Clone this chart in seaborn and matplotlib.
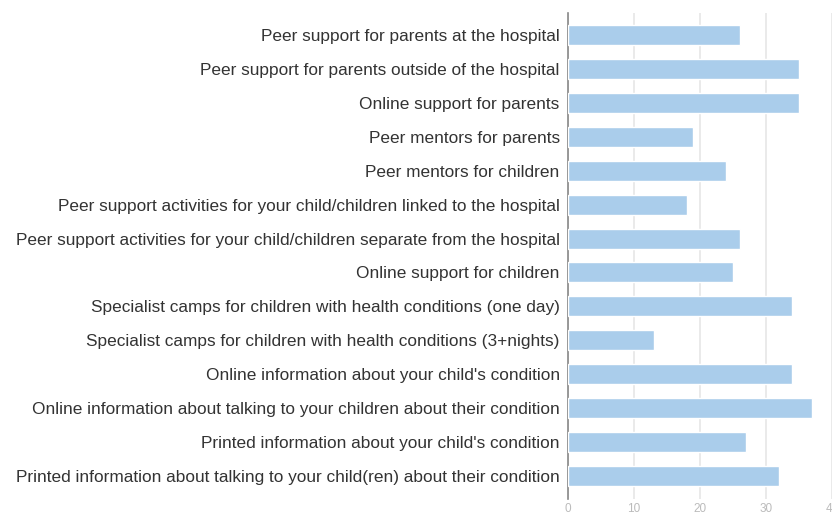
import matplotlib
matplotlib.use("Agg")
import matplotlib.pyplot as plt
import seaborn as sns
import pandas as pd

categories = [
    "Peer support for parents at the hospital",
    "Peer support for parents outside of the hospital",
    "Online support for parents",
    "Peer mentors for parents",
    "Peer mentors for children",
    "Peer support activities for your child/children linked to the hospital",
    "Peer support activities for your child/children separate from the hospital",
    "Online support for children",
    "Specialist camps for children with health conditions (one day)",
    "Specialist camps for children with health conditions (3+nights)",
    "Online information about your child's condition",
    "Online information about talking to your children about their condition",
    "Printed information about your child's condition",
    "Printed information about talking to your child(ren) about their condition",
]
values = [26, 35, 35, 19, 24, 18, 26, 25, 34, 13, 34, 37, 27, 32]
xticks = [0, 10, 20, 30, 40]

df = pd.DataFrame({"category": categories, "value": values})

sns.set_theme(style="white")
plt.rcParams["font.family"] = ["Liberation Sans", "DejaVu Sans"]

fig = plt.figure(figsize=(8.32, 5.18), dpi=100)
ax = fig.add_axes([568 / 832, 19 / 518, 1 - 568 / 832, (499 - 13) / 518])

sns.barplot(data=df, x="value", y="category", color="#aacdeb", saturation=1,
            width=0.59, ax=ax, zorder=3)

ax.set_xlim(0, 40)
ax.set_ylim(13.68, -0.65)
ax.set_xticks(xticks)
ax.set_xticklabels([str(t) for t in xticks])
ax.xaxis.grid(True, color="#e6e6e6", linewidth=1.2, zorder=0)
ax.set_xlabel("")
ax.set_ylabel("")
for s in ["top", "right", "bottom"]:
    ax.spines[s].set_visible(False)
ax.spines["left"].set_color("#888888")
ax.spines["left"].set_linewidth(1.2)
ax.tick_params(axis="x", length=0, pad=3, labelsize=8.5, labelcolor="#bbbbbb")
ax.tick_params(axis="y", length=0, pad=6, labelsize=12.4, labelcolor="#333333")

fig.savefig("out.png", dpi=100)
